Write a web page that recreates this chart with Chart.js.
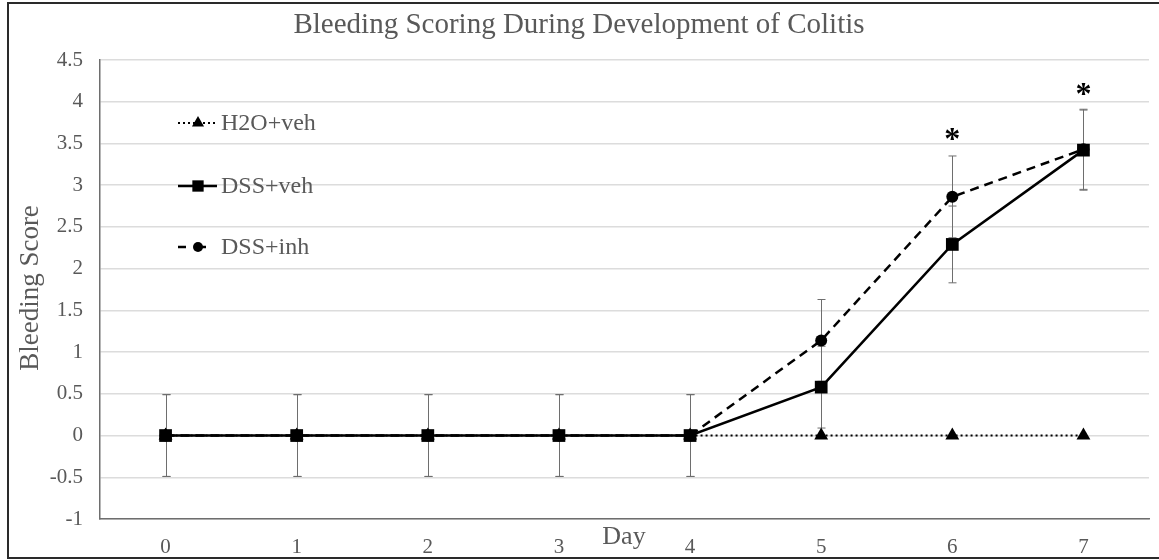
<!DOCTYPE html>
<html lang="en">
<head>
<script src="https://cdn.jsdelivr.net/npm/chart.js"></script>
<style>
  html, body { margin: 0; padding: 0; background: #fff; }
  #wrap { width: 1159px; height: 560px; }
</style>
</head>
<body>
<div id="wrap"><canvas id="bleedChart" width="1159" height="560"></canvas></div>

<script>
    // values
    const days = ['0', '1', '2', '3', '4', '5', '6', '7'];
    const h2oVeh = [0, 0, 0, 0, 0, 0, 0, 0];
    const dssVeh = [0, 0, 0, 0, 0, 0.58, 2.29, 3.42];
    const dssInh = [0, 0, 0, 0, 0, 1.14, 2.86, 3.43];
    const h2oVehErr = [0, 0, 0, 0, 0, 0, 0, 0];
    const dssVehErr = [0.49, 0.49, 0.49, 0.49, 0.49, 0.49, 0.46, 0.48];
    const dssInhErr = [0.49, 0.49, 0.49, 0.49, 0.49, 0.49, 0.49, 0.48];
    const starDays = ['6', '7'];
    const starValues = [3.62, 4.15];

    const SERIF = '"Liberation Serif", "DejaVu Serif", serif';
    const GRAY = '#595959';

    const series = [
      { label: 'DSS+veh', data: dssVeh, err: dssVehErr, dash: [], legDash: [], width: 2.5, style: 'rect', r: 9, legEnd: 217 },
      { label: 'DSS+inh', data: dssInh, err: dssInhErr, dash: [9, 6], legDash: [8, 12], width: 2.5, style: 'circle', r: 6, legEnd: 210 },
      { label: 'H2O+veh', data: h2oVeh, err: h2oVehErr, dash: [2, 3], legDash: [2, 3], width: 2, style: 'triangle', r: 8, legEnd: 217 }
    ];

    // gray error bars behind the lines
    const errorBars = {
      id: 'errorBars',
      beforeDatasetsDraw(chart) {
        const ctx = chart.ctx, x = chart.scales.x, y = chart.scales.y;
        ctx.save();
        ctx.strokeStyle = '#6e6e6e';
        ctx.lineWidth = 1;
        chart.data.datasets.forEach(ds => {
          ds.data.forEach((v, i) => {
            const e = ds.err[i];
            if (!e) return;
            const px = Math.round(x.getPixelForValue(i)) + 0.5;
            const top = y.getPixelForValue(v + e), bot = y.getPixelForValue(v - e);
            ctx.beginPath();
            ctx.moveTo(px, top); ctx.lineTo(px, bot);
            ctx.moveTo(px - 4, top); ctx.lineTo(px + 4, top);
            ctx.moveTo(px - 4, bot); ctx.lineTo(px + 4, bot);
            ctx.stroke();
          });
        });
        ctx.restore();
      }
    };

    // titles, legend, stars and the outer frame
    const decorations = {
      id: 'decorations',
      afterDraw(chart) {
        const ctx = chart.ctx, x = chart.scales.x, y = chart.scales.y;
        ctx.save();
        ctx.fillStyle = GRAY;
        ctx.textAlign = 'center';
        ctx.textBaseline = 'middle';
        ctx.font = '29px ' + SERIF;
        ctx.fillText('Bleeding Scoring During Development of Colitis', 579, 25);

        ctx.font = '26px ' + SERIF;
        ctx.fillText('Day', 624, 537);

        ctx.save();
        ctx.translate(31, 288);
        ctx.rotate(-Math.PI / 2);
        ctx.font = '27px ' + SERIF;
        ctx.fillText('Bleeding Score', 0, 0);
        ctx.restore();

        // legend
        const rows = [series[2], series[0], series[1]];
        const rowY = [123, 186, 247];
        rows.forEach((s, k) => {
          const ly = rowY[k];
          ctx.save();
          ctx.strokeStyle = '#000';
          ctx.lineWidth = s.width;
          ctx.setLineDash(s.legDash);
          ctx.beginPath();
          ctx.moveTo(178, ly);
          ctx.lineTo(s.legEnd, ly);
          ctx.stroke();
          ctx.setLineDash([]);
          ctx.fillStyle = '#000';
          Chart.helpers.drawPoint(ctx, { pointStyle: s.style, radius: s.r - 1, borderWidth: 0 }, 198, ly);
          ctx.restore();
          ctx.textAlign = 'left';
          ctx.font = '24px ' + SERIF;
          ctx.fillStyle = GRAY;
          ctx.fillText(s.label, 221, ly + 1);
        });

        // significance stars
        ctx.fillStyle = '#000';
        ctx.textAlign = 'center';
        ctx.font = 'bold 32px ' + SERIF;
        starDays.forEach((d, i) => {
          ctx.fillText('*', x.getPixelForValue(days.indexOf(d)), y.getPixelForValue(starValues[i]) + 7);
        });

        // frame
        ctx.strokeStyle = '#2a2a2a';
        ctx.lineWidth = 2;
        ctx.strokeRect(8, 3, 1160, 555);
        ctx.restore();
      }
    };

    const ctx = document.getElementById('bleedChart');
    const bleedChart = new Chart(ctx, {
      type: 'line',
      data: {
        labels: days,
        datasets: series.map(s => ({
          label: s.label,
          data: s.data,
          err: s.err,
          borderColor: '#000',
          backgroundColor: '#000',
          borderWidth: s.width,
          borderDash: s.dash,
          pointStyle: s.style,
          pointRadius: s.r,
          pointBorderWidth: 0,
          pointBackgroundColor: '#000',
          tension: 0,
          fill: false
        }))
      },
      plugins: [errorBars, decorations],
      options: {
        responsive: false,
        animation: false,
        layout: { padding: { left: 0, right: 10, top: 60, bottom: 0 } },
        plugins: { legend: { display: false }, tooltip: { enabled: false }, title: { display: false } },
        scales: {
          x: {
            type: 'category',
            offset: true,
            grid: { display: false, drawTicks: false },
            border: { display: true, color: '#6e6e6e', width: 1.5 },
            ticks: { color: GRAY, font: { family: SERIF, size: 21 }, padding: 16 },
            afterFit: s => { s.height = 41; }
          },
          y: {
            min: -1,
            max: 4.5,
            grid: { color: '#dcdcdc', lineWidth: 1.5, drawTicks: false },
            border: { display: true, color: '#6e6e6e', width: 1.5 },
            ticks: {
              stepSize: 0.5, color: GRAY, font: { family: SERIF, size: 21 }, padding: 17,
              callback: v => String(Math.round(v * 10) / 10)
            },
            afterFit: s => { s.width = 100; }
          }
        }
      }
    });
</script>
</body>
</html>
